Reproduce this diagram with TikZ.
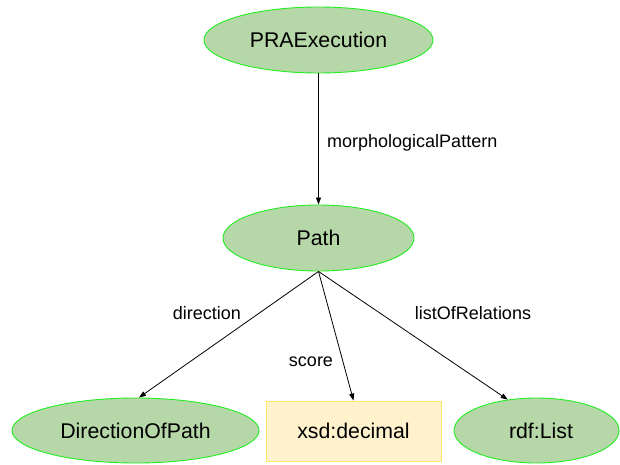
\documentclass[tikz,border=0pt]{standalone}
\usepackage{fontspec}
\setmainfont{Liberation Sans}
\usetikzlibrary{shapes.geometric,arrows.meta}
\definecolor{clsfill}{HTML}{B6D7A8}
\definecolor{clsline}{HTML}{22EE22}
\definecolor{litfill}{HTML}{FFF2CC}
\definecolor{litline}{HTML}{FFE866}
\tikzset{
  cls/.style={ellipse, draw=clsline, fill=clsfill, line width=0.9pt, inner sep=0pt,
    font=\fontsize{21.3}{25}\selectfont},
  lit/.style={rectangle, draw=litline, fill=litfill, line width=0.9pt, inner sep=0pt,
    font=\fontsize{21.3}{25}\selectfont},
  edge/.style={draw=black, line width=0.8pt, -{Triangle[length=7pt,width=5pt]}},
  elabel/.style={font=\fontsize{18}{21}\selectfont, inner sep=0pt}
}
\begin{document}
\begin{tikzpicture}[x=1pt,y=-1pt]
\useasboundingbox (0,0) rectangle (620,464);
\begin{scope}
\clip (0,0) rectangle (620,464);
\node[cls, minimum width=229pt, minimum height=66pt] (pra) at (318.5,40) {PRAExecution};
\node[cls, minimum width=191pt, minimum height=66pt] (path) at (318.5,238) {Path};
\node[cls, minimum width=247pt, minimum height=65pt] (dop) at (135.5,430.5) {DirectionOfPath};
\node[lit, minimum width=175pt, minimum height=60pt] (dec) at (353.5,431) {xsd:decimal};
\node[cls, minimum width=165pt, minimum height=65pt] (list) at (536.5,430.5) {\hspace*{9pt}rdf:List};
\end{scope}
\draw[edge] (pra.south) -- (path.north);
\draw[edge] (path.south) -- (dop.84);
\draw[edge] (path.south) -- (dec.north);
\draw[edge] (path.south) -- (list.133);
\node[elabel, anchor=west] (l1) at (327,143) {morphologicalPattern};
\node[elabel] (l2) at (207,313) {direction};
\node[elabel] (l3) at (311,362) {score};
\node[elabel] (l4) at (473,313) {listOfRelations};
\end{tikzpicture}
\end{document}
